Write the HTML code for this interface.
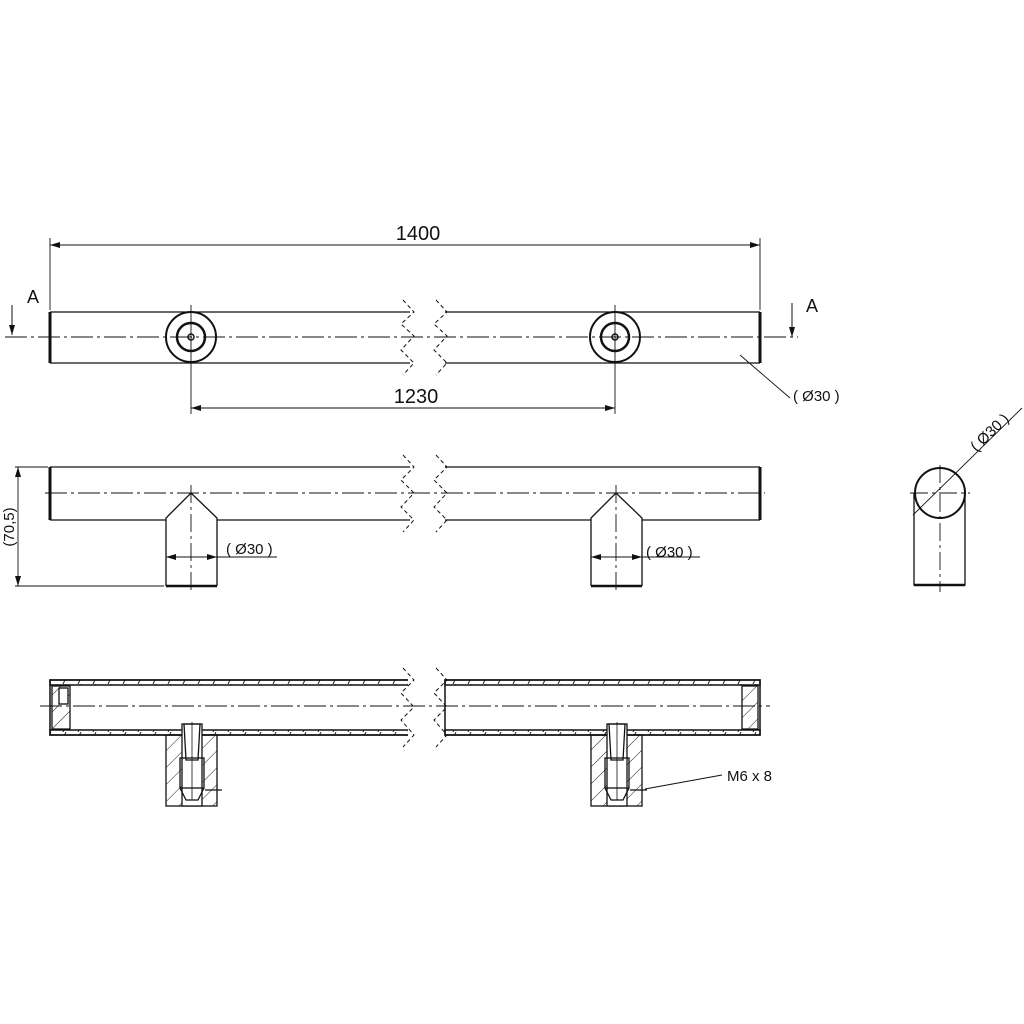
<!DOCTYPE html>
<html><head><meta charset="utf-8"><style>
html,body{margin:0;padding:0;background:#fff}
svg{display:block}
text{font-family:"Liberation Sans",sans-serif;fill:#111}
</style></head><body>
<svg width="1024" height="1024" viewBox="0 0 1024 1024" xmlns="http://www.w3.org/2000/svg">
<defs>
<marker id="ar" markerWidth="10" markerHeight="6" refX="10" refY="3" orient="auto-start-reverse" markerUnits="userSpaceOnUse"><path d="M0,0 L10,3 L0,6 Z" fill="#111"/></marker>
<pattern id="hw" width="15" height="6" patternUnits="userSpaceOnUse"><line x1="3" y1="6" x2="6" y2="0" stroke="#222" stroke-width="1"/></pattern>
<pattern id="hb" width="12" height="12" patternUnits="userSpaceOnUse" patternTransform="rotate(45)"><line x1="0" y1="0" x2="0" y2="12" stroke="#222" stroke-width="1"/></pattern>
</defs>
<g stroke="#111" fill="none" stroke-width="1.3">
<!-- TOP VIEW -->
<line x1="50" y1="312" x2="410" y2="312"/><line x1="50" y1="363" x2="410" y2="363"/>
<line x1="445" y1="312" x2="760" y2="312"/><line x1="445" y1="363" x2="760" y2="363"/>
<line x1="50" y1="312" x2="50" y2="363" stroke-width="3"/><line x1="760" y1="312" x2="760" y2="363" stroke-width="3"/>
<path d="M403,300 L414,312 L401,324 L414,336 L401,350 L414,363 L403,375" stroke-dasharray="4,3" stroke-width="1"/>
<path d="M436,300 L447,312 L434,324 L447,336 L434,350 L447,363 L436,375" stroke-dasharray="4,3" stroke-width="1"/>
<line x1="5" y1="337" x2="798" y2="337" stroke-width="0.9" stroke-dasharray="22,4,3,4"/>
<circle cx="191" cy="337" r="25" stroke-width="2"/><circle cx="191" cy="337" r="14" stroke-width="2.5"/><circle cx="191" cy="337" r="3" stroke-width="1.5"/>
<circle cx="615" cy="337" r="25" stroke-width="2"/><circle cx="615" cy="337" r="14" stroke-width="2.5"/><circle cx="615" cy="337" r="3" stroke-width="1.5"/>
<line x1="191" y1="305" x2="191" y2="414" stroke-width="0.9"/><line x1="615" y1="305" x2="615" y2="414" stroke-width="0.9"/>
<line x1="50" y1="238" x2="50" y2="310" stroke-width="0.9"/><line x1="760" y1="238" x2="760" y2="310" stroke-width="0.9"/>
<line x1="50" y1="245" x2="760" y2="245" stroke-width="0.9" marker-start="url(#ar)" marker-end="url(#ar)"/>
<line x1="191" y1="408" x2="615" y2="408" stroke-width="0.9" marker-start="url(#ar)" marker-end="url(#ar)"/>
<line x1="12" y1="305" x2="12" y2="335" stroke-width="1" marker-end="url(#ar)"/>
<line x1="792" y1="303" x2="792" y2="337" stroke-width="1" marker-end="url(#ar)"/>
<line x1="740" y1="355" x2="790" y2="398" stroke-width="0.9"/>
<!-- SIDE VIEW -->
<line x1="50" y1="467" x2="410" y2="467"/><line x1="50" y1="520" x2="166" y2="520"/><line x1="217" y1="520" x2="410" y2="520"/>
<line x1="445" y1="467" x2="760" y2="467"/><line x1="445" y1="520" x2="591" y2="520"/><line x1="642" y1="520" x2="760" y2="520"/>
<line x1="50" y1="467" x2="50" y2="520" stroke-width="3"/><line x1="760" y1="467" x2="760" y2="520" stroke-width="3"/>
<path d="M403,455 L414,467 L401,480 L414,493 L401,507 L414,520 L403,532" stroke-dasharray="4,3" stroke-width="1"/>
<path d="M436,455 L447,467 L434,480 L447,493 L434,507 L447,520 L436,532" stroke-dasharray="4,3" stroke-width="1"/>
<line x1="45" y1="493" x2="765" y2="493" stroke-width="0.9" stroke-dasharray="22,4,3,4"/>
<path d="M166,586 L166,518 L191,493 L217,518 L217,586"/><line x1="166" y1="586" x2="217" y2="586" stroke-width="2.5"/>
<path d="M591,586 L591,518 L616,493 L642,518 L642,586"/><line x1="591" y1="586" x2="642" y2="586" stroke-width="2.5"/>
<line x1="191" y1="485" x2="191" y2="592" stroke-width="0.9" stroke-dasharray="18,4,3,4"/>
<line x1="616" y1="485" x2="616" y2="592" stroke-width="0.9" stroke-dasharray="18,4,3,4"/>
<line x1="15" y1="467" x2="48" y2="467" stroke-width="0.9"/><line x1="15" y1="586" x2="164" y2="586" stroke-width="0.9"/>
<line x1="18" y1="467" x2="18" y2="586" stroke-width="0.9" marker-start="url(#ar)" marker-end="url(#ar)"/>
<line x1="166" y1="557" x2="217" y2="557" stroke-width="0.9" marker-start="url(#ar)" marker-end="url(#ar)"/><line x1="217" y1="557" x2="277" y2="557" stroke-width="0.9"/>
<line x1="591" y1="557" x2="642" y2="557" stroke-width="0.9" marker-start="url(#ar)" marker-end="url(#ar)"/><line x1="642" y1="557" x2="700" y2="557" stroke-width="0.9"/>
<!-- END VIEW -->
<circle cx="940" cy="493" r="25" stroke-width="2"/>
<path d="M914,493 L914,585 L965,585 L965,493"/><line x1="914" y1="585" x2="965" y2="585" stroke-width="2.5"/>
<line x1="940" y1="465" x2="940" y2="592" stroke-width="0.9" stroke-dasharray="18,4,3,4"/>
<line x1="910" y1="493" x2="970" y2="493" stroke-width="0.9" stroke-dasharray="18,4,3,4"/>
<line x1="913" y1="515" x2="1022" y2="408" stroke-width="0.9"/>
<!-- SECTION VIEW -->
<rect x="50" y="680" width="360" height="55" stroke-width="1.5"/>
<rect x="50" y="680" width="360" height="5" fill="url(#hw)" stroke-width="1.5"/><rect x="50" y="730" width="360" height="5" fill="url(#hw)" stroke-width="1.5"/>
<rect x="445" y="680" width="315" height="55" stroke-width="1.5"/>
<rect x="445" y="680" width="315" height="5" fill="url(#hw)" stroke-width="1.5"/><rect x="445" y="730" width="315" height="5" fill="url(#hw)" stroke-width="1.5"/>
<rect x="408" y="678" width="30" height="60" fill="#fff" stroke="none"/>
<path d="M403,668 L414,680 L401,693 L414,707 L401,720 L414,735 L403,747" stroke-dasharray="4,3" stroke-width="1"/>
<path d="M436,668 L447,680 L434,693 L447,707 L434,720 L447,735 L436,747" stroke-dasharray="4,3" stroke-width="1"/>
<path d="M52,686 L70,686 L70,729 L52,729 Z" fill="url(#hb)"/>
<rect x="59" y="688" width="9" height="16" fill="#fff"/>
<path d="M758,686 L742,686 L742,729 L758,729 Z" fill="url(#hb)"/>
<line x1="40" y1="706" x2="770" y2="706" stroke-width="0.9" stroke-dasharray="22,4,3,4"/>
<rect x="166" y="735" width="51" height="71" fill="url(#hb)"/>
<rect x="182" y="724" width="20" height="82" fill="#fff"/>
<path d="M184,724 L200,724 L198,760 L186,760 Z"/><line x1="192" y1="722" x2="192" y2="800" stroke-width="0.8"/>
<rect x="180" y="758" width="24" height="30"/><path d="M180,788 L186,800 L198,800 L204,788"/>
<line x1="205" y1="790" x2="222" y2="790"/>
<rect x="591" y="735" width="51" height="71" fill="url(#hb)"/>
<rect x="607" y="724" width="20" height="82" fill="#fff"/>
<path d="M609,724 L625,724 L623,760 L611,760 Z"/><line x1="617" y1="722" x2="617" y2="800" stroke-width="0.8"/>
<rect x="605" y="758" width="24" height="30"/><path d="M605,788 L611,800 L623,800 L629,788"/>
<line x1="630" y1="790" x2="647" y2="790"/>
<line x1="645" y1="789" x2="722" y2="775" stroke-width="0.9"/>
</g>
<text x="418" y="240" font-size="20" text-anchor="middle">1400</text>
<text x="416" y="403" font-size="20" text-anchor="middle">1230</text>
<text x="33" y="303" font-size="18" text-anchor="middle">A</text>
<text x="812" y="312" font-size="18" text-anchor="middle">A</text>
<text x="793" y="401" font-size="15">( Ø30 )</text>
<text x="226" y="554" font-size="15">( Ø30 )</text>
<text x="646" y="557" font-size="15">( Ø30 )</text>
<text x="14" y="527" font-size="15" text-anchor="middle" transform="rotate(-90 14 527)">(70,5)</text>
<text x="993" y="436" font-size="15" text-anchor="middle" transform="rotate(-44 993 436)">( Ø30 )</text>
<text x="727" y="781" font-size="15">M6 x 8</text>
</svg>
</body></html>
